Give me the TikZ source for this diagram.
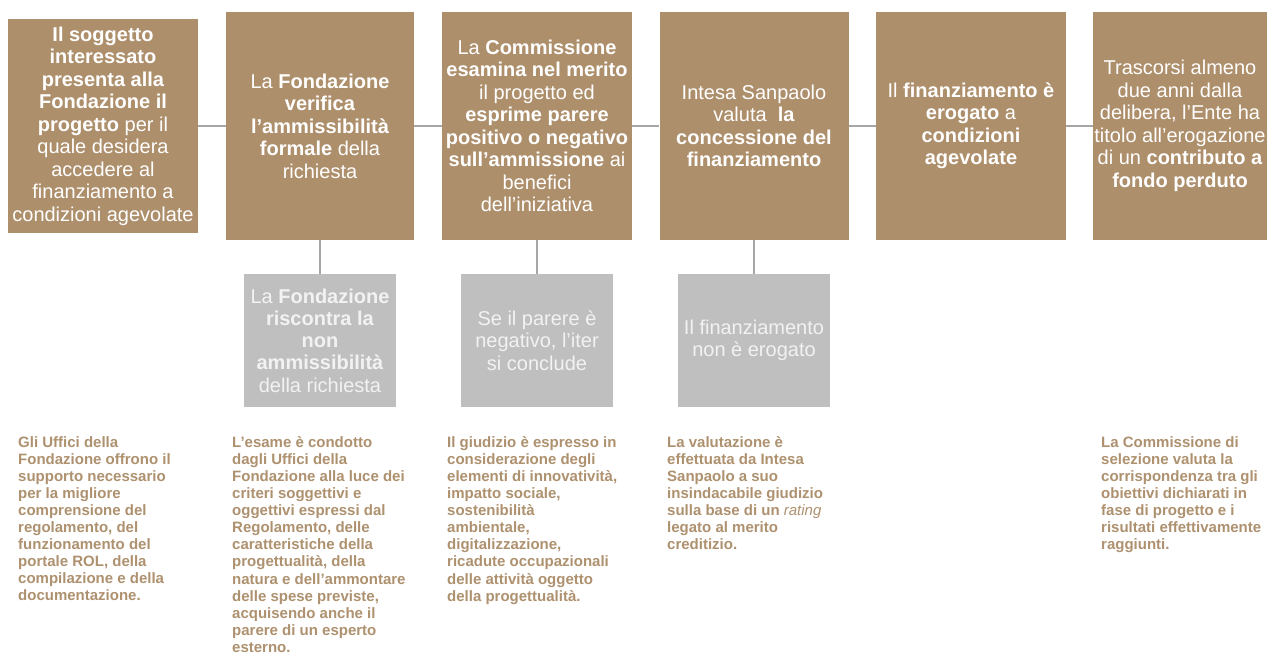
\documentclass[tikz,border=0pt]{standalone}
\usepackage{fontspec}
\setmainfont{Liberation Sans}
\usepackage{tikz}

\definecolor{boxbrown}{HTML}{AE8F6B}
\definecolor{notebrown}{HTML}{AE916F}
\definecolor{boxgrey}{HTML}{BFBFBF}
\definecolor{linkgrey}{HTML}{A6A6A6}

\begin{document}
\begin{tikzpicture}[x=1pt,y=-1pt,
		stepbox/.style={fill=boxbrown, text=white, inner sep=0pt, align=center,
			minimum width=190pt, minimum height=228pt,
			font=\fontsize{20}{22.5}\selectfont},
		stopbox/.style={fill=boxgrey, text=white!95!black, inner sep=0pt, align=center,
			minimum width=152pt, minimum height=133pt,
			font=\fontsize{20}{22.3}\selectfont},
		note/.style={anchor=north west, inner sep=0pt, align=left, text=notebrown,
			font=\fontsize{15}{17.1}\selectfont\bfseries},
		link/.style={draw=linkgrey, line width=1.2pt}]
		\path[use as bounding box, fill=white] (0,0) rectangle (1272,660);
		% main steps
		\node[stepbox, minimum height=214pt] (s1) at (103,126)
			{\textbf{Il soggetto}\\\textbf{interessato}\\\textbf{presenta alla}\\\textbf{Fondazione il}\\\textbf{progetto} per il\\quale desidera\\accedere al\\finanziamento a\\condizioni agevolate};
		\node[stepbox, minimum width=188pt] (s2) at (320,126)
			{La \textbf{Fondazione}\\\textbf{verifica}\\\textbf{l’ammissibilità}\\\textbf{formale} della\\richiesta};
		\node[stepbox] (s3) at (537,126)
			{La \textbf{Commissione}\\\textbf{esamina nel merito}\\il progetto ed\\\textbf{esprime parere}\\\textbf{positivo o negativo}\\\textbf{sull’ammissione} ai\\benefici\\dell’iniziativa};
		\node[stepbox, minimum width=189pt] (s4) at (754,126)
			{Intesa Sanpaolo\\valuta \ \textbf{la}\\\textbf{concessione del}\\\textbf{finanziamento}};
		\node[stepbox] (s5) at (971,126)
			{Il \textbf{finanziamento è}\\\textbf{erogato} a\\\textbf{condizioni}\\\textbf{agevolate}};
		\node[stepbox, minimum width=174pt] (s6) at (1180,126)
			{Trascorsi almeno\\due anni dalla\\delibera, l’Ente ha\\titolo all’erogazione\\di un \textbf{contributo a}\\\textbf{fondo perduto}};
		% negative outcomes
		\node[stopbox] (n2) at (320,340.5)
			{La \textbf{Fondazione}\\\textbf{riscontra la}\\\textbf{non}\\\textbf{ammissibilità}\\della richiesta};
		\node[stopbox] (n3) at (537,340.5)
			{Se il parere è\\negativo, l’iter\\si conclude};
		\node[stopbox] (n4) at (754,340.5)
			{Il finanziamento\\non è erogato};
		\foreach \a/\b in {s1/s2, s2/s3, s3/s4, s4/s5, s5/s6, s2/n2, s3/n3, s4/n4}
			\draw[link] (\a) -- (\b);
		% notes
		\node[note] (t1) at (18,436)
			{Gli Uffici della\\Fondazione offrono il\\supporto necessario\\per la migliore\\comprensione del\\regolamento, del\\funzionamento del\\portale ROL, della\\compilazione e della\\documentazione.};
		\node[note] (t2) at (232,436)
			{L’esame è condotto\\dagli Uffici della\\Fondazione alla luce dei\\criteri soggettivi e\\oggettivi espressi dal\\Regolamento, delle\\caratteristiche della\\progettualità, della\\natura e dell’ammontare\\delle spese previste,\\acquisendo anche il\\parere di un esperto\\esterno.};
		\node[note] (t3) at (447,436)
			{Il giudizio è espresso in\\considerazione degli\\elementi di innovatività,\\impatto sociale,\\sostenibilità\\ambientale,\\digitalizzazione,\\ricadute occupazionali\\delle attività oggetto\\della progettualità.};
		\node[note] (t4) at (667,436)
			{La valutazione è\\effettuata da Intesa\\Sanpaolo a suo\\insindacabile giudizio\\sulla base di un {\mdseries\itshape rating}\\legato al merito\\creditizio.};
		\node[note] (t6) at (1101,436)
			{La Commissione di\\selezione valuta la\\corrispondenza tra gli\\obiettivi dichiarati in\\fase di progetto e i\\risultati effettivamente\\raggiunti.};
	\end{tikzpicture}
\end{document}
